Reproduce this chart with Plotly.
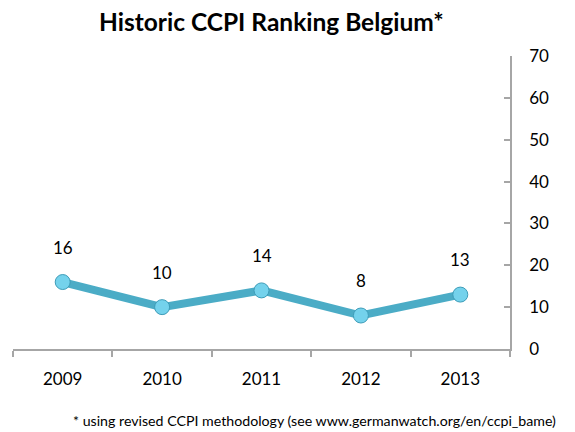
import plotly.graph_objects as go

years = ["2009", "2010", "2011", "2012", "2013"]
ranks = [16, 10, 14, 8, 13]
y_ticks = [0, 10, 20, 30, 40, 50, 60, 70]

FONT = "Lato"

fig = go.Figure()
fig.add_trace(go.Scatter(
    x=years, y=ranks, mode="lines+markers",
    line=dict(color="#4BACC6", width=8),
    marker=dict(size=15, color="#74D2EC", line=dict(color="#3E9CB8", width=1)),
    showlegend=False, hoverinfo="skip",
))

for i, yv in enumerate(ranks):
    fig.add_annotation(x=i, y=yv, xref="x", yref="y", text=str(yv), showarrow=False,
                       yshift=35, font=dict(family=FONT, size=17, color="black"))

# page has 8px body margin; plot area on page spans x 13..510, y 56..349
fig.add_annotation(text="<b>Historic CCPI Ranking Belgium*</b>", xref="paper", yref="paper",
                   x=(271 - 13) / 497, y=1.0, yshift=35, showarrow=False,
                   xanchor="center", yanchor="middle",
                   font=dict(family=FONT, size=24.5, color="black"))

fig.add_annotation(text="* using revised CCPI methodology (see www.germanwatch.org/en/ccpi_bame)",
                   xref="paper", yref="paper", x=(314 - 13) / 497, y=0, yshift=-71,
                   showarrow=False, xanchor="center", yanchor="middle",
                   font=dict(family=FONT, size=14.2, color="black"))

fig.update_layout(
    width=567, height=424,
    margin=dict(l=5, r=65, t=48, b=83),
    paper_bgcolor="white", plot_bgcolor="white",
    font=dict(family=FONT, size=16, color="black"),
    xaxis=dict(type="category", range=[-0.5, 4.5], showgrid=False, zeroline=False,
               showline=True, linecolor="#A6A6A6", linewidth=1.5,
               ticks="outside", tickson="boundaries", ticklen=6, tickcolor="#A6A6A6",
               tickwidth=1.5, tickfont=dict(size=17, family=FONT), ticklabelstandoff=14,
               fixedrange=True),
    yaxis=dict(side="right", range=[0, 70], tickvals=y_ticks, showgrid=False, zeroline=False,
               showline=True, linecolor="#A6A6A6", linewidth=1.5,
               ticks="inside", ticklen=6, tickcolor="#A6A6A6", tickwidth=1.5,
               tickfont=dict(size=17, family=FONT), ticklabelstandoff=14, fixedrange=True),
)

fig.write_html("out.html")
